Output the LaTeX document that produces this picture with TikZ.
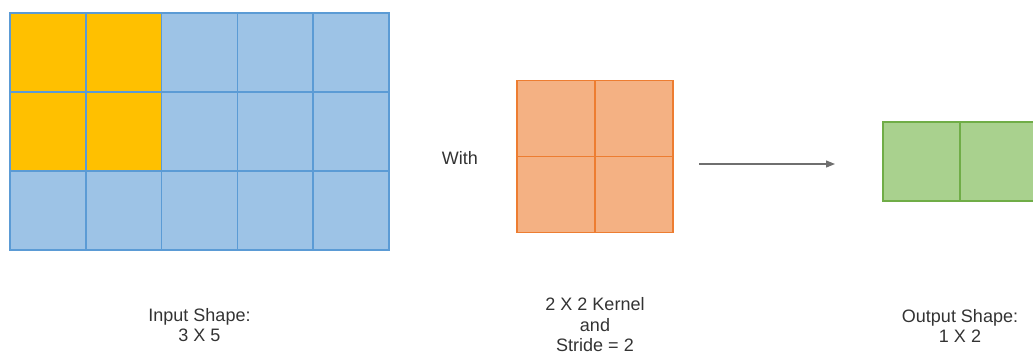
\documentclass[tikz,border=0pt]{standalone}
\usepackage{fontspec}
\setmainfont{Liberation Sans}
\usetikzlibrary{arrows.meta}
\usetikzlibrary{positioning}

\definecolor{inblue}{HTML}{9DC3E6}
\definecolor{inedge}{HTML}{5B9BD5}
\definecolor{winyellow}{HTML}{FFC000}
\definecolor{kfill}{HTML}{F4B183}
\definecolor{kedge}{HTML}{ED7D31}
\definecolor{outfill}{HTML}{A9D18E}
\definecolor{outedge}{HTML}{70AD47}
\definecolor{arrowgray}{HTML}{6F6F6F}
\definecolor{textgray}{HTML}{333333}

\begin{document}
\begin{tikzpicture}[x=1pt, y=-1pt,
    every node/.style={inner sep=0pt, text=textgray, font=\fontsize{18}{20.5}\selectfont},
    every matrix/.style={column sep=-1.5pt, row sep=-1.5pt},
    incell/.style={draw=inedge, fill=inblue, line width=1.5pt,
      minimum width=75.8pt, minimum height=79pt},
    hot/.style={incell, fill=winyellow},
    kcell/.style={draw=kedge, fill=kfill, line width=1.5pt,
      minimum width=78pt, minimum height=76pt},
    ocell/.style={draw=outedge, fill=outfill, line width=1.5pt,
      minimum width=77pt, minimum height=79pt},
    caption/.style={align=center}
  ]
  \useasboundingbox (0,0) rectangle (1033,354);

  \node[matrix] (input) at (199.5,131.5) {
    \node[hot] (i11) {}; & \node[hot] (i12) {}; & \node[incell] (i13) {}; & \node[incell] (i14) {}; & \node[incell] (i15) {}; \\
    \node[hot] (i21) {}; & \node[hot] (i22) {}; & \node[incell] (i23) {}; & \node[incell] (i24) {}; & \node[incell] (i25) {}; \\
    \node[incell] (i31) {}; & \node[incell] (i32) {}; & \node[incell] (i33) {}; & \node[incell] (i34) {}; & \node[incell] (i35) {}; \\
  };
  \node[matrix] (kern) at (595,156.5) {
    \node[kcell] (k11) {}; & \node[kcell] (k12) {}; \\
    \node[kcell] (k21) {}; & \node[kcell] (k22) {}; \\
  };
  \node[matrix] (out) at (960,161.5) {
    \node[ocell] (o11) {}; & \node[ocell] (o12) {}; \\
  };

  \node[left=38pt of kern, yshift=-2pt] (with) {With};

  \coordinate (arr_in) at (699,164);
  \coordinate (arr_out) at (835,164);
  \draw[arrowgray, line width=1.2pt, -{Triangle[length=9pt,width=7pt]}] (arr_in) -- (arr_out);

  \node[caption, below=57pt of input] (incap) {Input Shape:\\3 X 5};
  \node[caption, below=64pt of kern] (kcap) {2 X 2 Kernel\\and\\Stride = 2};
  \node[caption, below=107pt of out] (outcap) {Output Shape:\\1 X 2};
\end{tikzpicture}
\end{document}
